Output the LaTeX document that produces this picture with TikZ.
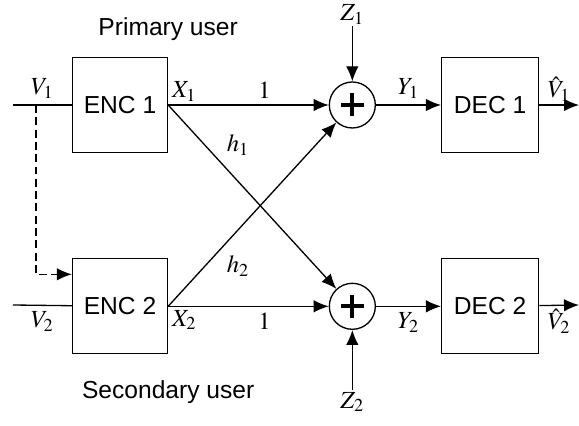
\documentclass[tikz,border=0pt]{standalone}
\usepackage{mathptmx}
\usepackage{fontspec}
\setmainfont{Liberation Sans}
\usetikzlibrary{positioning, arrows.meta}
\newcommand{\widthbox}{1.9cm}
\newcommand{\widthdec}{1.94cm}
\newcommand{\sizesum}{0.92cm}
\newcommand{\armplus}{0.23cm}
\tikzset{
    common/.style={draw, rectangle, line width=0.75pt, minimum height=1.9cm},
    encbox/.style={common, minimum width=\widthbox},
    decbox/.style={common, minimum width=\widthdec},
    summer/.style={draw, circle, line width=0.75pt, minimum size=\sizesum, inner sep=0pt,
        path picture={
            \draw[line width=2.3pt]
                ([xshift=-\armplus]path picture bounding box.center)--([xshift=\armplus]path picture bounding box.center)
                ([yshift=-\armplus]path picture bounding box.center)--([yshift=\armplus]path picture bounding box.center);
        }
    },
    sig/.style={line width=0.75pt, -{Latex[length=3mm, width=2.5mm]}},
    wire/.style={line width=0.75pt},
    every node/.style={font=\fontsize{14}{16}\selectfont}
}

\begin{document}
\begin{tikzpicture}
    \useasboundingbox (0,0) rectangle (11.58,8.52);

    % blocks
    \node[encbox] (enc1) at (2.4,6.42) {ENC 1};
    \node[encbox, below=2.1cm of enc1] (enc2) {ENC 2};
    \node[summer, right=3.21cm of enc1] (sum1) {};
    \node[summer, right=3.21cm of enc2] (sum2) {};
    \node[decbox, right=1.3cm of sum1] (dec1) {DEC 1};
    \node[decbox, right=1.3cm of sum2] (dec2) {DEC 2};

    \node[above=0.2cm of enc1.north east] (prim) {Primary user};
    \node[below=0.4cm of enc2.south east] (sec) {Secondary user};

    \node[above=1.1cm of sum1, inner sep=1pt] (z1) {$Z_1$};
    \node[below=1.2cm of sum2, inner sep=1pt] (z2) {$Z_2$};

    \coordinate (in1) at (0.26,6.42);
    \coordinate (in2) at (0.26,2.42);
    \coordinate (tap) at (0.72,6.42);
    \coordinate (out1) at (11.58,6.42);
    \coordinate (out2) at (11.58,2.42);

    % inputs
    \draw[wire] (in1) -- node[above]{$V_1$} (enc1);
    \draw[wire] (in2) -- node[below]{$V_2$} (enc2);
    \draw[sig, dash pattern=on 4.5pt off 2.5pt] (tap) |- ([yshift=0.64cm]enc2.west);

    \node[above right, inner sep=2pt] at (enc1.east) {$X_1$};
    \node[below right, inner sep=2pt] at (enc2.east) {$X_2$};

    % channel
    \draw[sig] (enc1) -- node[pos=0.6, above]{$1$} (sum1);
    \draw[sig] (enc2) -- node[pos=0.6, below]{$1$} (sum2);
    \draw[sig] (enc1.east) -- node[pos=0.31, above right]{$h_1$} (sum2);
    \draw[sig] (enc2.east) -- node[pos=0.31, below right]{$h_2$} (sum1);
    \draw[sig] (z1) -- (sum1);
    \draw[sig] (z2) -- (sum2);

    % receivers
    \draw[sig] (sum1) -- node[above]{$Y_1$} (dec1);
    \draw[sig] (sum2) -- node[below]{$Y_2$} (dec2);
    \draw[sig] (dec1) -- node[above, inner sep=1.5pt]{$\hat{V}_1$} (out1);
    \draw[sig] (dec2) -- node[below, inner sep=1.5pt]{$\hat{V}_2$} (out2);

\end{tikzpicture}
\end{document}
